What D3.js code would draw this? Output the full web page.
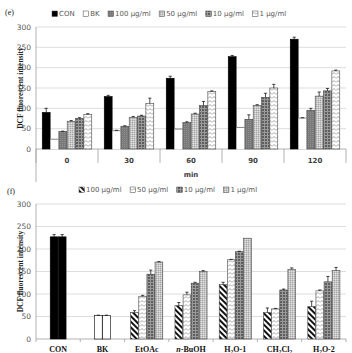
<!DOCTYPE html>
<html>
<head>
<meta charset="utf-8">
<script src="https://cdn.jsdelivr.net/npm/d3@7"></script>
<style>
  body { margin: 0; background: #fff; }
  svg { display: block; }
</style>
</head>
<body>
<div id="chart"></div>
<script>
// --- Data: panel (e), time course ---
const timeLabels = ["0", "30", "60", "90", "120"];
const seriesE = ["CON", "BK", "100 µg/ml", "50 µg/ml", "10 µg/ml", "1 µg/ml"];
const conE = [90, 129, 174, 227, 270];
const bkE = [24, 45, 49, 53, 76];
const c100E = [43, 56, 65, 73, 95];
const c50E = [68, 78, 86, 107, 130];
const c10E = [75, 81, 107, 127, 143];
const c1E = [85, 112, 141, 150, 192];
const conErrE = [10, 3, 5, 3, 5];
const bkErrE = [0, 1, 0, 0, 1];
const c100ErrE = [1, 1, 2, 11, 5];
const c50ErrE = [2, 2, 2, 2, 10];
const c10ErrE = [2, 2, 10, 10, 6];
const c1ErrE = [2, 13, 2, 9, 2];

// --- Data: panel (f), fractions ---
const fractionLabels = ["CON", "BK", "EtOAc", "n-BuOH", "H2O-1", "CH2Cl2", "H2O-2"];
const seriesF = ["100 µg/ml", "50 µg/ml", "10 µg/ml", "1 µg/ml"];
const conF = [227, 227];
const conErrF = [5, 5];
const bkF = [52, 52];
const bkErrF = [1, 1];
const c100F = [59, 74, 121, 59, 72];
const c50F = [95, 98, 176, 67, 107];
const c10F = [144, 124, 194, 109, 127];
const c1F = [171, 150, 224, 155, 152];
const c100ErrF = [4, 7, 5, 10, 12];
const c50ErrF = [2, 6, 1, 1, 2];
const c10ErrF = [9, 2, 1, 2, 12];
const c1ErrF = [1, 2, 0, 3, 7];

const yTicks = [0, 50, 100, 150, 200, 250, 300];

const W = 352, H = 353;
const svg = d3.select("#chart").append("svg").attr("width", W).attr("height", H);
const defs = svg.append("defs");

// --- Patterns ---
function pat(id, size, bg, draw, rot) {
    const p = defs.append("pattern").attr("id", id)
        .attr("patternUnits", "userSpaceOnUse")
        .attr("width", size).attr("height", size);
    if (rot) p.attr("patternTransform", `rotate(${rot})`);
    p.append("rect").attr("width", size).attr("height", size).attr("fill", bg);
    draw(p);
}
pat("pDark", 2, "#7a7a7a", p => p.append("rect").attr("width", 1).attr("height", 1).attr("fill", "#909090"));
pat("pLight", 2, "#c6c6c6", p => {
    p.append("rect").attr("width", 1).attr("height", 1).attr("fill", "#a6a6a6");
    p.append("rect").attr("x", 1).attr("y", 1).attr("width", 1).attr("height", 1).attr("fill", "#e0e0e0");
});
pat("pHatch", 3, "#5e5e5e", p => {
    p.append("rect").attr("width", 1).attr("height", 3).attr("fill", "#9a9a9a");
    p.append("rect").attr("width", 3).attr("height", 1).attr("fill", "#9a9a9a");
});
pat("pDots", 4, "#ffffff", p => p.append("path")
    .attr("d", "M0,2.5 L2,0.5 L4,2.5").attr("fill", "none")
    .attr("stroke", "#8a8a8a").attr("stroke-width", 0.8));
pat("pStripe", 4, "#ffffff", p => p.append("rect").attr("width", 2).attr("height", 4).attr("fill", "#111"), -45);

const fillE = { "CON": "#000", "BK": "#fff", "100 µg/ml": "url(#pDark)", "50 µg/ml": "url(#pLight)",
                "10 µg/ml": "url(#pHatch)", "1 µg/ml": "url(#pDots)" };
const fillF = { "100 µg/ml": "url(#pStripe)", "50 µg/ml": "url(#pDots)", "10 µg/ml": "url(#pHatch)", "1 µg/ml": "url(#pLight)" };

const sans = "'DejaVu Sans', Verdana, sans-serif";
const serif = "'Liberation Serif', 'Times New Roman', serif";
const gray = "#595959";

const left = 36, right = 346;

// --- Shared helpers ---
function yAxisFrame(g, y, top, bottom) {
    g.append("g").selectAll("line").data(yTicks.slice(1)).join("line")
        .attr("x1", left).attr("x2", right)
        .attr("y1", d => y(d)).attr("y2", d => y(d))
        .attr("stroke", "#d4d4d4").attr("stroke-width", 0.8);
    g.append("g").selectAll("text").data(yTicks).join("text")
        .attr("x", left - 5).attr("y", d => y(d) + 2.7)
        .attr("text-anchor", "end").attr("fill", gray)
        .style("font", `7.5px ${sans}`).text(d => d);
    g.append("line").attr("x1", left).attr("x2", left).attr("y1", top).attr("y2", bottom)
        .attr("stroke", "#a0a0a0").attr("stroke-width", 0.8);
    g.append("line").attr("x1", left).attr("x2", right).attr("y1", y(0)).attr("y2", y(0))
        .attr("stroke", "#a0a0a0").attr("stroke-width", 0.8);
    g.append("text")
        .attr("transform", `translate(23,${(y(0) + y(300)) / 2}) rotate(-90)`)
        .attr("text-anchor", "middle").attr("fill", "#222")
        .style("font", `bold 7.5px ${serif}`).text("DCF fluorescent intensity");
}

function errBar(g, cx, y, v, e) {
    if (!e) return;
    g.append("line").attr("x1", cx).attr("x2", cx).attr("y1", y(v)).attr("y2", y(v + e))
        .attr("stroke", "#000").attr("stroke-width", 0.7);
    g.append("line").attr("x1", cx - 1.6).attr("x2", cx + 1.6).attr("y1", y(v + e)).attr("y2", y(v + e))
        .attr("stroke", "#000").attr("stroke-width", 0.7);
}

function drawBar(g, x, w, y, v, fill, kind) {
    if (kind === "openTop") {
        g.append("rect").attr("x", x).attr("y", y(v)).attr("width", w).attr("height", y(0) - y(v)).attr("fill", "#fff");
        g.append("line").attr("x1", x).attr("x2", x + w).attr("y1", y(v)).attr("y2", y(v))
            .attr("stroke", "#666").attr("stroke-width", 0.8);
        return;
    }
    g.append("rect").attr("x", x).attr("y", y(v)).attr("width", w).attr("height", y(0) - y(v))
        .attr("fill", fill).attr("stroke", kind === "black" ? "#000" : "#444").attr("stroke-width", 0.6);
}

function legend(g, items, startX, yy, fills) {
    let x = startX;
    items.forEach(name => {
        g.append("rect").attr("x", x).attr("y", yy - 5).attr("width", 5.5).attr("height", 5.5)
            .attr("fill", fills[name]).attr("stroke", "#444").attr("stroke-width", 0.5);
        const t = g.append("text").attr("x", x + 7).attr("y", yy).attr("fill", gray)
            .style("font", `7px ${sans}`).text(name);
        x += 7 + t.node().getComputedTextLength() + 8.5;
    });
}

// --- Panel (e) ---
const ge = svg.append("g");
const yE = d3.scaleLinear().domain([0, 300]).range([149, 27]);
const xE = d3.scaleBand().domain(timeLabels).range([left, right]).padding(0);
const xEi = d3.scaleBand().domain(seriesE).range([0, xE.bandwidth()]).paddingInner(0.05).paddingOuter(0.75);
yAxisFrame(ge, yE, 27, 182);

ge.append("g").selectAll("line").data(d3.range(timeLabels.length + 1)).join("line")
    .attr("x1", i => left + i * xE.step()).attr("x2", i => left + i * xE.step())
    .attr("y1", yE(0)).attr("y2", yE(0) + 14)
    .attr("stroke", "#a0a0a0").attr("stroke-width", 0.8);

const dataE = [conE, bkE, c100E, c50E, c10E, c1E];
const errE = [conErrE, bkErrE, c100ErrE, c50ErrE, c10ErrE, c1ErrE];
timeLabels.forEach((t, i) => {
    seriesE.forEach((s, j) => {
        const x = xE(t) + xEi(s), w = xEi.bandwidth(), v = dataE[j][i];
        drawBar(ge, x, w, yE, v, fillE[s], s === "BK" ? "openTop" : (s === "CON" ? "black" : ""));
        errBar(ge, x + w / 2, yE, v, errE[j][i]);
    });
});

ge.append("g").selectAll("text").data(timeLabels).join("text")
    .attr("x", d => xE(d) + xE.bandwidth() / 2).attr("y", 163)
    .attr("text-anchor", "middle").attr("fill", "#404040")
    .style("font", `bold 7px ${sans}`).text(d => d);
ge.append("text").attr("x", (left + right) / 2).attr("y", 177)
    .attr("text-anchor", "middle").attr("fill", "#404040")
    .style("font", `bold 7px ${sans}`).text("min");

ge.append("text").attr("x", 5).attr("y", 15).attr("fill", "#222")
    .style("font", `8px ${serif}`).text("(e)");
legend(ge, seriesE, 52, 16, fillE);

// --- Panel (f) ---
const gf = svg.append("g");
const yF = d3.scaleLinear().domain([0, 300]).range([339, 204]);
const xF = d3.scaleBand().domain(fractionLabels).range([left, right]).padding(0);
const xFi = d3.scaleBand().domain(seriesF).range([0, xF.bandwidth()]).paddingInner(0.05).paddingOuter(0.75);
const xFpair = d3.scaleBand().domain(["a", "b"]).range([xFi(seriesF[1]), xFi(seriesF[2]) + xFi.bandwidth()]).paddingInner(0.05);
yAxisFrame(gf, yF, 204, 339);

gf.append("g").selectAll("line").data(d3.range(fractionLabels.length + 1)).join("line")
    .attr("x1", i => left + i * xF.step()).attr("x2", i => left + i * xF.step())
    .attr("y1", yF(0)).attr("y2", yF(0) + 3)
    .attr("stroke", "#a0a0a0").attr("stroke-width", 0.8);

// CON and BK as paired bars
[["CON", conF, conErrF, "#000"], ["BK", bkF, bkErrF, "#fff"]].forEach(([cat, vals, errs, col]) => {
    ["a", "b"].forEach((k, j) => {
        const x = xF(cat) + xFpair(k), w = xFpair.bandwidth();
        drawBar(gf, x, w, yF, vals[j], col, "black");
        errBar(gf, x + w / 2, yF, vals[j], errs[j]);
    });
});

const dataF = [c100F, c50F, c10F, c1F];
const errF = [c100ErrF, c50ErrF, c10ErrF, c1ErrF];
fractionLabels.slice(2).forEach((cat, i) => {
    seriesF.forEach((s, j) => {
        const x = xF(cat) + xFi(s), w = xFi.bandwidth(), v = dataF[j][i];
        drawBar(gf, x, w, yF, v, fillF[s], "");
        errBar(gf, x + w / 2, yF, v, errF[j][i]);
    });
});

// category labels with subscripts / italics
const labelParts = {
    "CON": [["CON", ""]],
    "BK": [["BK", ""]],
    "EtOAc": [["EtOAc", ""]],
    "n-BuOH": [["n", "it"], ["-BuOH", ""]],
    "H2O-1": [["H", ""], ["2", "sub"], ["O-1", ""]],
    "CH2Cl2": [["CH", ""], ["2", "sub"], ["Cl", ""], ["2", "sub"]],
    "H2O-2": [["H", ""], ["2", "sub"], ["O-2", ""]]
};
fractionLabels.forEach(cat => {
    const t = gf.append("text").attr("x", xF(cat) + xF.bandwidth() / 2).attr("y", 352)
        .attr("text-anchor", "middle").attr("fill", "#111")
        .style("font", `bold 8px ${serif}`);
    let wasSub = false;
    labelParts[cat].forEach(([s, kind]) => {
        const ts = t.append("tspan").text(s);
        if (kind === "it") ts.style("font-style", "italic");
        if (kind === "sub") { ts.attr("font-size", 5.5).attr("dy", 1.5); wasSub = true; }
        else if (wasSub) { ts.attr("dy", -1.5); wasSub = false; }
    });
});

gf.append("text").attr("x", 7).attr("y", 194).attr("fill", "#222")
    .style("font", `8px ${serif}`).text("(f)");
legend(gf, seriesF, 79, 192, fillF);
</script>
</body>
</html>
